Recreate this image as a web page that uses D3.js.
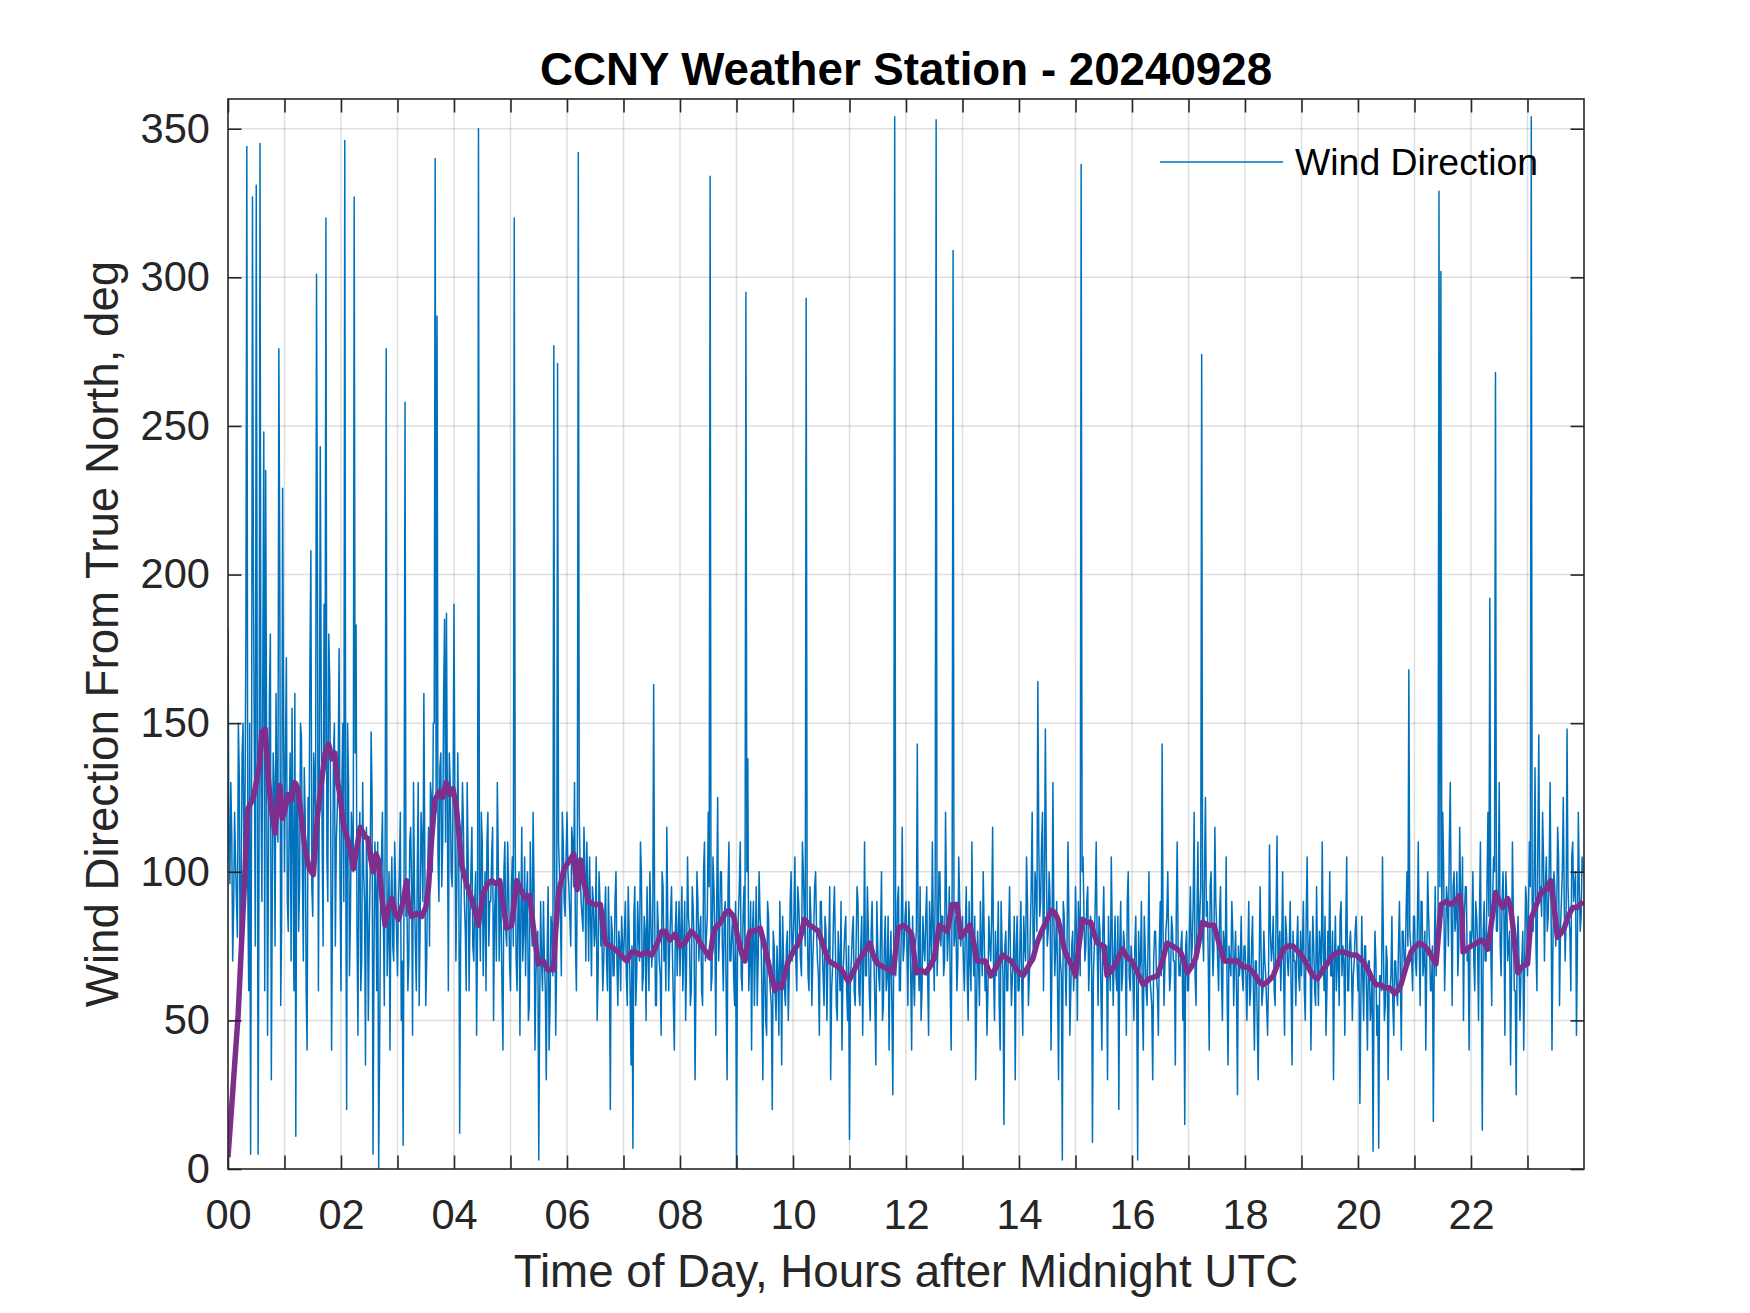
<!DOCTYPE html>
<html><head><meta charset="utf-8">
<script src="https://cdn.jsdelivr.net/npm/d3@7"></script>
<style>body{margin:0;background:#fff}svg{display:block}</style>
</head><body><svg id="chart" width="1750" height="1313"></svg>
<script>
// ---------------- DATA ----------------
const titleText = "CCNY Weather Station - 20240928";
const xLabelText = "Time of Day, Hours after Midnight UTC";
const yLabelText = "Wind Direction From True North, deg";
const legendLabel = "Wind Direction";
const xTickHours = [0,1,2,3,4,5,6,7,8,9,10,11,12,13,14,15,16,17,18,19,20,21,22,23];
const xTickLabels = ["00","","02","","04","","06","","08","","10","","12","","14","","16","","18","","20","","22",""];
const yTicks = [0,50,100,150,200,250,300,350];
// wind direction (deg) at even minutes (00,02,04,...), 30 values per hour
const windEvenMin = [
182,96,112,88,104,78,132,95,150,120,344,60,5,327,140,331,5,345,90,248,235,45,160,30,140,75,120,276,55,229,
100,172,80,140,155,60,11,130,95,145,70,118,40,105,208,85,130,301,60,243,110,190,320,90,165,40,140,75,120,175,
60,150,346,20,130,85,110,327,183,45,120,70,100,35,95,80,147,5,110,60,0,90,120,55,276,80,40,105,70,95,
65,100,50,8,258,90,70,115,45,95,60,130,80,110,160,55,100,75,125,150,340,287,90,140,110,185,187,60,130,95,
190,70,140,12,105,115,80,130,60,100,75,90,45,350,70,110,85,60,120,90,105,50,95,130,70,85,40,110,75,95,
60,105,320,70,90,45,115,80,65,100,55,85,120,40,75,3,90,60,70,30,95,55,80,277,45,271,100,65,110,85,
120,95,75,110,130,60,342,100,85,115,70,95,105,65,90,80,50,100,75,60,85,70,95,20,80,65,100,55,75,85,
70,90,55,80,35,7,95,65,78,110,60,85,50,75,100,68,163,55,90,70,45,95,80,115,60,85,72,40,90,78,
65,95,75,50,105,80,60,88,30,100,70,85,55,110,78,120,334,65,95,45,125,80,100,60,90,30,110,70,85,55,
0,85,110,60,95,295,138,70,40,90,75,55,100,80,30,70,45,85,60,20,75,50,65,90,35,70,55,80,65,100,
75,105,60,90,70,110,85,293,65,95,55,80,100,70,45,90,65,85,50,75,30,68,95,55,80,60,40,72,85,50,
10,70,85,55,95,60,75,45,110,65,80,50,90,70,35,75,60,100,55,85,65,40,80,25,354,70,95,60,115,75,
90,55,80,40,65,75,143,60,50,85,70,95,45,80,110,60,353,75,100,85,65,120,70,95,40,309,80,60,105,75,
85,60,95,50,70,110,65,30,80,55,75,100,60,45,85,70,115,50,65,90,40,75,15,80,60,95,55,70,30,85,
60,90,45,75,105,55,80,120,70,95,164,85,110,60,148,75,100,40,130,65,90,30,70,3,85,55,110,45,75,60,
95,50,80,338,105,70,90,60,85,9,75,110,55,80,40,95,65,30,70,105,55,85,60,20,90,65,75,45,100,60,
70,50,85,3,65,90,40,75,55,100,60,30,80,65,45,90,143,55,80,100,60,85,70,35,110,65,75,50,15,80,
60,95,75,120,55,110,85,274,70,125,90,40,100,65,115,80,60,95,50,75,105,35,70,90,55,80,25,65,85,60,
75,50,90,60,85,40,70,30,95,55,80,65,45,109,70,85,55,112,75,60,100,45,80,65,90,35,70,55,85,60,
65,90,50,105,70,40,85,60,95,55,75,110,60,45,80,100,65,30,85,70,55,90,75,45,105,60,80,50,70,85,
60,22,85,50,75,40,70,55,6,80,45,7,65,105,50,75,30,60,85,45,70,55,90,40,80,65,100,168,75,60,
85,65,110,55,90,70,40,100,75,60,16,95,80,329,302,120,60,95,75,130,55,100,85,65,115,80,50,95,70,40,
75,100,60,85,50,110,13,90,70,120,192,55,105,268,80,130,65,100,45,90,75,35,110,60,25,85,50,70,40,95,
65,110,354,80,135,60,146,95,120,70,105,85,130,40,100,75,115,55,90,125,70,148,85,60,110,95,45,120,80,105
];
// wind direction (deg) at odd minutes (01,03,05,...), 30 values per hour
const windOddMin = [
110,130,70,120,90,150,60,140,100,180,95,150,120,200,75,160,110,130,170,60,140,105,180,90,130,160,110,200,85,150,
140,90,120,70,110,160,130,80,150,100,135,60,125,170,95,140,110,200,130,160,75,140,105,180,120,90,150,110,135,95,
130,90,110,150,65,120,100,140,80,105,60,130,90,115,50,100,125,70,95,110,40,105,85,120,65,100,90,75,110,80,
90,120,70,100,85,60,110,95,130,75,100,55,120,90,105,70,115,130,100,150,120,105,135,95,160,110,120,140,100,125,
120,95,110,75,130,90,60,105,85,115,70,100,80,95,120,65,100,110,75,90,115,85,70,105,95,60,100,80,110,70,
95,75,110,60,100,85,70,105,90,50,110,75,95,65,80,55,70,90,60,75,40,85,65,95,70,110,85,120,90,105,
100,85,115,95,75,105,120,90,80,100,110,70,85,95,75,105,65,90,80,70,95,60,75,85,65,90,70,80,60,75,
80,65,95,60,75,85,55,90,70,100,65,80,95,60,85,75,90,55,80,65,100,70,60,85,75,95,55,80,65,90,
80,60,90,70,85,55,95,75,65,90,80,60,100,70,85,95,60,105,80,90,70,100,75,85,60,95,70,80,65,90,
70,95,65,85,75,100,60,90,80,55,95,70,85,60,75,50,90,65,55,80,60,75,45,70,85,60,75,50,90,70,
85,70,95,80,65,100,75,90,60,85,70,95,80,65,90,75,55,80,70,95,60,85,75,50,70,90,65,80,60,75,
65,80,60,75,90,55,85,70,65,95,60,80,70,55,90,65,80,50,75,60,85,70,55,75,65,90,60,80,70,85,
75,90,65,85,55,80,70,95,60,75,85,65,90,70,80,95,65,100,75,85,70,90,80,60,95,75,85,70,90,80,
70,80,65,90,60,75,85,55,70,90,65,80,70,60,75,85,65,80,70,55,90,65,75,60,80,70,65,85,75,60,
75,60,85,70,90,65,95,75,100,80,110,90,120,95,105,80,90,70,85,75,60,80,65,90,70,75,85,60,80,70,
80,90,65,100,85,75,95,70,80,65,90,75,85,60,80,70,75,85,60,80,70,65,85,75,60,80,70,90,65,75,
65,75,60,80,70,55,85,60,75,65,55,70,80,60,75,65,80,70,85,75,65,80,70,85,75,65,80,70,75,60,
80,70,90,65,85,75,95,80,100,85,70,95,80,75,90,70,85,65,80,70,60,75,65,80,70,60,75,70,65,75,
65,70,55,75,60,70,50,65,75,60,70,55,65,80,75,60,85,70,80,75,65,85,70,75,60,80,70,75,65,80,
75,60,85,70,80,65,75,55,70,80,65,75,85,60,70,65,80,70,60,75,85,65,70,80,60,75,70,65,80,70,
70,55,65,75,60,70,50,65,60,70,55,65,60,75,55,70,60,65,55,70,60,75,65,80,70,85,75,80,70,85,
70,80,75,90,65,80,70,85,60,75,70,65,80,95,85,100,75,90,110,85,95,80,100,75,90,105,85,95,75,80,
80,70,90,75,85,65,80,70,95,85,75,90,100,80,95,75,90,85,100,70,80,65,85,60,75,70,65,80,70,90,
85,95,80,100,75,110,90,85,105,95,80,100,90,75,95,85,105,80,100,90,85,95,80,105,90,100,75,95,85,100
];
// running-mean curve (purple), read at irregular times (hours, deg)
const smoothHours = [0.00,0.08,0.18,0.25,0.30,0.35,0.45,0.55,0.60,0.66,0.72,0.76,0.83,0.88,0.92,0.96,1.00,1.06,1.12,1.18,1.24,1.30,1.36,1.44,1.51,1.58,1.66,1.72,1.78,1.84,1.89,1.94,1.98,2.04,2.10,2.16,2.22,2.28,2.34,2.42,2.48,2.53,2.57,2.62,2.66,2.72,2.78,2.84,2.90,2.96,3.02,3.10,3.16,3.20,3.25,3.34,3.43,3.50,3.55,3.60,3.66,3.74,3.80,3.86,3.92,3.98,4.04,4.10,4.14,4.22,4.31,4.38,4.43,4.48,4.52,4.60,4.67,4.74,4.81,4.86,4.93,5.02,5.07,5.11,5.18,5.26,5.34,5.40,5.49,5.58,5.66,5.76,5.80,5.85,5.95,6.05,6.12,6.18,6.24,6.30,6.38,6.48,6.59,6.64,6.68,6.76,6.85,6.95,7.06,7.14,7.20,7.30,7.40,7.50,7.60,7.68,7.74,7.82,7.91,8.00,8.08,8.20,8.30,8.39,8.46,8.53,8.58,8.62,8.72,8.80,8.86,8.95,9.02,9.10,9.15,9.20,9.24,9.32,9.42,9.50,9.58,9.68,9.74,9.80,9.86,9.92,10.00,10.10,10.16,10.20,10.30,10.38,10.45,10.54,10.63,10.72,10.80,10.86,10.92,10.98,11.06,11.16,11.26,11.36,11.42,11.50,11.60,11.70,11.77,11.82,11.86,11.95,12.02,12.10,12.18,12.26,12.35,12.42,12.50,12.59,12.66,12.73,12.82,12.90,12.97,13.05,13.13,13.20,13.25,13.33,13.40,13.50,13.60,13.71,13.78,13.86,13.96,14.07,14.16,14.25,14.32,14.40,14.50,14.58,14.64,14.69,14.75,14.80,14.86,14.92,15.00,15.06,15.12,15.20,15.27,15.33,15.39,15.50,15.56,15.64,15.71,15.78,15.83,15.92,16.00,16.10,16.20,16.30,16.45,16.54,16.62,16.72,16.80,16.86,16.92,16.98,17.05,17.13,17.20,17.25,17.35,17.45,17.54,17.63,17.75,17.87,17.96,18.05,18.15,18.25,18.32,18.40,18.50,18.60,18.68,18.76,18.85,18.95,19.03,19.12,19.20,19.28,19.35,19.45,19.56,19.66,19.76,19.87,19.97,20.08,20.18,20.25,20.32,20.40,20.47,20.56,20.65,20.70,20.76,20.85,20.94,21.02,21.09,21.18,21.26,21.32,21.38,21.43,21.47,21.56,21.65,21.72,21.80,21.84,21.86,21.93,22.00,22.10,22.18,22.24,22.30,22.37,22.44,22.50,22.56,22.65,22.70,22.74,22.78,22.83,22.90,23.00,23.06,23.14,23.24,23.32,23.41,23.47,23.53,23.58,23.65,23.72,23.80,23.88,23.98];
const smoothValues = [4,25,52,80,100,121,125,135,147,148,130,122,113,124,129,118,120,126,124,130,128,118,108,101,99,118,131,140,143,138,140,130,126,116,112,108,101,108,115,112,111,104,100,106,104,92,82,88,91,86,84,90,97,88,85,86,85,88,95,110,124,127,125,130,126,128,122,110,102,96,91,86,82,88,93,96,97,96,97,90,81,82,90,97,94,91,92,82,69,70,67,67,80,93,101,104,106,94,104,96,90,89,89,82,76,75,74,72,70,73,73,72,73,72,76,80,80,77,79,75,76,80,78,75,73,71,78,81,83,86,87,85,78,72,70,77,80,80,81,75,68,60,62,61,66,70,73,76,80,84,82,81,80,75,70,69,68,67,65,63,66,70,73,76,72,69,68,67,66,74,81,82,81,79,66,67,66,68,71,82,81,80,89,89,78,80,82,76,70,70,70,65,68,72,71,70,67,65,68,71,76,80,84,87,86,84,79,74,71,69,65,75,84,83,83,79,76,75,65,67,69,72,74,71,70,66,62,64,65,70,76,75,74,73,70,66,68,71,78,83,82,82,76,70,70,70,68,68,66,63,62,63,65,70,74,75,75,73,71,68,65,64,66,69,72,73,73,72,72,70,67,64,62,62,61,61,59,60,62,68,73,75,76,75,73,71,69,80,89,90,89,90,92,85,73,74,75,76,77,76,74,84,93,90,88,91,88,82,74,66,68,69,84,88,93,94,97,88,78,79,81,85,88,88,90];

// ---------------- CHART ----------------
const W = 1750, H = 1313;
const plot = {left: 228, right: 1584, top: 99, bottom: 1169};
const ink = "#262626";
const fontFam = "'Liberation Sans', Arial, Helvetica, sans-serif";

const svg = d3.select("#chart");
svg.append("rect").attr("width", W).attr("height", H).attr("fill", "#fff");

const x = d3.scaleLinear().domain([0, 24]).range([plot.left, plot.right]);
const y = d3.scaleLinear().domain([0, 360]).range([plot.bottom, plot.top]);

// merge even- and odd-minute samples into one time series (minute -> hours)
const blueData = [];
windEvenMin.forEach((v, i) => {
  blueData.push({h: (2 * i) / 60, v});
  blueData.push({h: (2 * i + 1) / 60, v: windOddMin[i]});
});
const purpleData = smoothHours.map((h, i) => ({h, v: smoothValues[i]}));

// grid
const grid = svg.append("g").attr("stroke", ink).attr("stroke-opacity", 0.15).attr("stroke-width", 1.5);
grid.selectAll("line.gx").data(xTickHours.filter(h => h > 0)).join("line")
  .attr("x1", d => x(d)).attr("x2", d => x(d)).attr("y1", plot.top).attr("y2", plot.bottom);
grid.selectAll("line.gy").data(yTicks.filter(v => v > 0)).join("line")
  .attr("x1", plot.left).attr("x2", plot.right).attr("y1", d => y(d)).attr("y2", d => y(d));

// clip
svg.append("clipPath").attr("id", "clip").append("rect")
  .attr("x", plot.left).attr("y", plot.top).attr("width", plot.right - plot.left).attr("height", plot.bottom - plot.top);

const line = d3.line().x(d => x(d.h)).y(d => y(d.v));
const dataG = svg.append("g").attr("clip-path", "url(#clip)");
dataG.append("path").datum(blueData).attr("d", line)
  .attr("fill", "none").attr("stroke", "#0072BD").attr("stroke-width", 1.5).attr("stroke-linejoin", "round");
dataG.append("path").datum(purpleData).attr("d", line)
  .attr("fill", "none").attr("stroke", "#7E2F8E").attr("stroke-width", 5.5).attr("stroke-linejoin", "round");

// axes
const tickLen = 13.5;
function styleAxis(g) {
  g.select(".domain").remove();
  g.selectAll(".tick line").attr("stroke", ink).attr("stroke-width", 1.6);
  g.selectAll(".tick text").attr("fill", ink).attr("font-family", fontFam).attr("font-size", 41.6);
}
svg.append("g").attr("transform", `translate(0,${plot.bottom})`)
  .call(d3.axisBottom(x).tickValues(xTickHours).tickSize(-tickLen).tickPadding(30)
    .tickFormat((d, i) => xTickLabels[i]))
  .call(styleAxis);
svg.append("g").attr("transform", `translate(0,${plot.top})`)
  .call(d3.axisTop(x).tickValues(xTickHours).tickSize(-tickLen).tickFormat(() => ""))
  .call(styleAxis);
svg.append("g").attr("transform", `translate(${plot.left},0)`)
  .call(d3.axisLeft(y).tickValues(yTicks).tickSize(-tickLen).tickPadding(18).tickFormat(d3.format("d")))
  .call(styleAxis);
svg.append("g").attr("transform", `translate(${plot.right},0)`)
  .call(d3.axisRight(y).tickValues(yTicks).tickSize(-tickLen).tickFormat(() => ""))
  .call(styleAxis);

// box
svg.append("rect").attr("x", plot.left).attr("y", plot.top)
  .attr("width", plot.right - plot.left).attr("height", plot.bottom - plot.top)
  .attr("fill", "none").attr("stroke", ink).attr("stroke-width", 1.6);

// title & labels
svg.append("text").attr("x", (plot.left + plot.right) / 2).attr("y", 85)
  .attr("text-anchor", "middle").attr("font-family", fontFam).attr("font-weight", "bold")
  .attr("font-size", 45.7).attr("fill", "#000").text(titleText);
svg.append("text").attr("x", (plot.left + plot.right) / 2).attr("y", 1287)
  .attr("text-anchor", "middle").attr("font-family", fontFam)
  .attr("font-size", 45.7).attr("fill", ink).text(xLabelText);
svg.append("text").attr("transform", `translate(118,${(plot.top + plot.bottom) / 2}) rotate(-90)`)
  .attr("text-anchor", "middle").attr("font-family", fontFam)
  .attr("font-size", 45.7).attr("fill", ink).text(yLabelText);

// legend
const lg = svg.append("g");
lg.append("line").attr("x1", 1160).attr("x2", 1283).attr("y1", 162).attr("y2", 162)
  .attr("stroke", "#0072BD").attr("stroke-width", 1.6);
lg.append("text").attr("x", 1295).attr("y", 175).attr("font-family", fontFam)
  .attr("font-size", 37.4).attr("fill", "#000").text(legendLabel);
</script></body></html>
